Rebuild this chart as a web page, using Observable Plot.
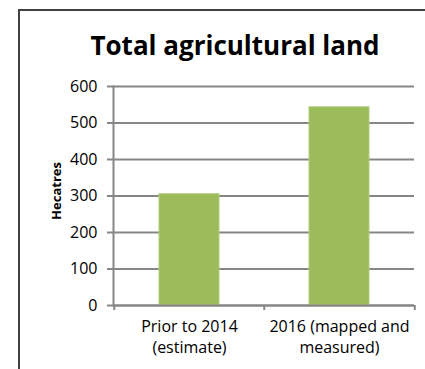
<!DOCTYPE html>
<html>
<head>
<meta charset="utf-8">
<script src="https://cdn.jsdelivr.net/npm/d3@7"></script>
<script src="https://cdn.jsdelivr.net/npm/@observablehq/plot@0.6"></script>
<style>
  html, body { margin: 0; padding: 0; background: #fff; }
  #wrap { position: relative; width: 425px; height: 369px; overflow: hidden; background: #fff; }
  #border { position: absolute; left: 18px; top: 9px; width: 600px; height: 600px; border: 2px solid #404040; box-sizing: border-box; }
  #title { position: absolute; left: 90px; width: 290px; top: 32px; text-align: center; white-space: nowrap;
           font-family: "Open Sans", sans-serif; font-weight: bold; font-size: 26px; line-height: 26px; color: #000; }
  #chart { position: absolute; left: 0; top: 0; }
</style>
</head>
<body>
<div id="wrap">
  <div id="border"></div>
  <div id="chart"></div>
  <div id="title">Total agricultural land</div>
</div>
<script>
const categories = ["Prior to 2014\n(estimate)", "2016 (mapped and\nmeasured)"];
const values = [305, 543];
const yTicks = [0, 100, 200, 300, 400, 500, 600];
const yLabel = "Hecatres";

const data = categories.map((c, i) => ({category: c, value: values[i]}));

const W = 425, H = 369, ML = 113, MR = 11, MT = 86, MB = 64;
const step = (W - ML - MR) / 2;
const grid = "#868686";

const chart = Plot.plot({
  width: W, height: H,
  marginLeft: ML, marginRight: MR, marginTop: MT, marginBottom: MB,
  style: {fontFamily: "'Open Sans', sans-serif", fontSize: "16px", color: "#000", background: "transparent"},
  x: {domain: categories, paddingInner: 0.6, paddingOuter: 0.3},
  y: {domain: [0, 600]},
  marks: [
    Plot.gridY(yTicks, {stroke: grid, strokeOpacity: 1, strokeWidth: 2}),
    Plot.barY(data, {x: "category", y: "value", fill: "#9BBB59", stroke: "#B2CB84", strokeWidth: 1}),
    Plot.ruleY([0], {stroke: grid, strokeWidth: 2}),
    Plot.frame({anchor: "left", stroke: grid, strokeWidth: 2}),
    Plot.axisY(yTicks, {tickSize: 6, tickPadding: 10, stroke: grid, strokeWidth: 2, fill: "#000", fontSize: 16, label: null, tickFormat: d => String(d)}),
    Plot.text([yLabel], {frameAnchor: "left", textAnchor: "middle", rotate: -90, dx: -57, dy: -5, fontWeight: "bold", fontSize: 13, fill: "#000"}),
    Plot.axisX({tickSize: 0, tickPadding: 12, label: null, lineHeight: 1.3, fontSize: 16, fill: "#000"}),
    Plot.ruleX(categories, {x: d => d, dx: -step / 2, y1: 0, y2: 0, insetBottom: -5, stroke: grid, strokeWidth: 2}),
    Plot.ruleX(categories.slice(-1), {x: d => d, dx: step / 2, y1: 0, y2: 0, insetBottom: -5, stroke: grid, strokeWidth: 2})
  ]
});
document.getElementById("chart").appendChild(chart);
</script>
</body>
</html>
